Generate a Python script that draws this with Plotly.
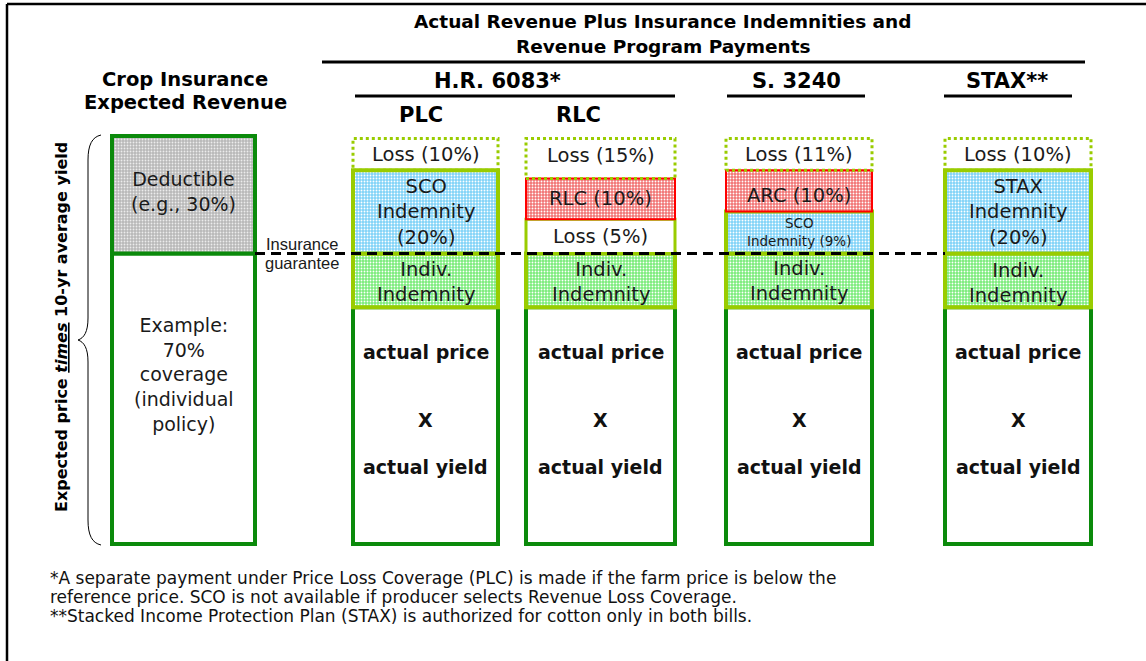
import plotly.graph_objects as go

# ---------------- data (percent of expected revenue) ----------------
col_names = ["Crop Insurance Expected Revenue", "PLC", "RLC", "S. 3240", "STAX"]

crop_values = [71.2, 28.8]
crop_kinds = ["coverage", "deductible"]
crop_labels = ["Example:<br>70%<br>coverage<br>(individual<br>policy)", "Deductible<br>(e.g., 30%)"]

plc_values = [58.0, 13.2, 20.4, 7.8]
plc_kinds = ["actual", "indiv", "blue", "loss"]
plc_labels = ["", "Indiv.<br>Indemnity", "SCO<br>Indemnity<br>(20%)", "Loss (10%)"]

rlc_values = [58.0, 13.2, 8.4, 10.0, 9.8]
rlc_kinds = ["actual", "indiv", "white", "red", "loss"]
rlc_labels = ["", "Indiv.<br>Indemnity", "Loss (5%)", "RLC (10%)", "Loss (15%)"]

arc_values = [58.0, 13.2, 10.3, 10.1, 7.8]
arc_kinds = ["actual", "indiv", "blue_small", "red", "loss"]
arc_labels = ["", "Indiv.<br>Indemnity", "SCO<br>Indemnity (9%)", "ARC (10%)", "Loss (11%)"]

stax_values = [58.0, 13.2, 20.4, 7.8]
stax_kinds = ["actual", "indiv", "blue", "loss"]
stax_labels = ["", "Indiv.<br>Indemnity", "STAX<br>Indemnity<br>(20%)", "Loss (10%)"]

actual_lines = ["actual price", "X", "actual yield"]

header_main = ["Actual Revenue Plus Insurance Indemnities and", "Revenue Program Payments"]
bill_names = ["H.R. 6083*", "S. 3240", "STAX**"]
program_names = ["PLC", "RLC"]
left_header = ["Crop Insurance", "Expected Revenue"]
axis_text = "<b>Expected price <i><u>times</u></i> 10-yr average yield</b>"
guarantee_text = ["Insurance", "guarantee"]
footnotes = [
    "*A separate payment under Price Loss Coverage (PLC) is made if the farm price is below the",
    "reference price. SCO is not available if producer selects Revenue Loss Coverage.",
    "**Stacked Income Protection Plan (STAX) is authorized for cotton only in both bills.",
]

columns = [
    (crop_values, crop_kinds, crop_labels),
    (plc_values, plc_kinds, plc_labels),
    (rlc_values, rlc_kinds, rlc_labels),
    (arc_values, arc_kinds, arc_labels),
    (stax_values, stax_kinds, stax_labels),
]

# ---------------- layout constants ----------------
W, H = 1146, 661
COL_X = [183.5, 425.5, 600.5, 799.0, 1018.0]
COL_W = [143, 145, 149, 146, 146]
PX_PER_PCT = 4.08
Y0_PX = 544
FONT = "DejaVu Sans"
TXT = "#1a1a1a"
DKGREEN = "#0b8a0b"
YGREEN = "#99cc00"


def ypx(p):
    return (Y0_PX - p) / PX_PER_PCT


def yp(p):
    return 1 - p / H


STYLE = {
    "coverage": dict(fill="#ffffff", fg=None, line=DKGREEN, lw=4, size=19),
    "deductible": dict(fill="#b8b8b8", fg="#ececec", line=DKGREEN, lw=4, size=19),
    "actual": dict(fill="#ffffff", fg=None, line=DKGREEN, lw=4, size=19),
    "indiv": dict(fill="#7aec7a", fg="#ffffff", line=YGREEN, lw=4, size=19.5),
    "blue": dict(fill="#80d3f8", fg="#ffffff", line=YGREEN, lw=4, size=19.5),
    "blue_small": dict(fill="#80d3f8", fg="#ffffff", line=YGREEN, lw=4, size=13.5),
    "white": dict(fill="#ffffff", fg=None, line=YGREEN, lw=3, size=19.5),
    "red": dict(fill="#f27474", fg="#ffffff", line="#ff0000", lw=2, size=19.5),
    "loss": dict(fill=None, fg=None, line=YGREEN, lw=3, size=19.5),
}
LABEL_SHIFT = {(0, 0): 24, (0, 1): 3, (3, 3): -5, (1, 1): -2, (2, 1): -2, (3, 1): -1,
               (4, 1): -3, (2, 4): 3}

fig = go.Figure()

# insurance guarantee dashed line (behind bars)
g_y = crop_values[0]
fig.add_trace(go.Scatter(
    x=[COL_X[0] + COL_W[0] / 2, COL_X[4] - COL_W[4] / 2], y=[g_y, g_y], mode="lines",
    line=dict(color="#000000", width=3, dash="10px,6px"), hoverinfo="skip", showlegend=False))

annotations = []
dotted = []
for ci, (vals, kinds, labels) in enumerate(columns):
    base = 0.0
    cx, w = COL_X[ci], COL_W[ci]
    for si, (v, k, lab) in enumerate(zip(vals, kinds, labels)):
        st = STYLE[k]
        if k == "loss":
            dotted.append((cx, w, base, base + v))
        else:
            marker = dict(color=st["fill"], line=dict(color=st["line"], width=st["lw"]))
            if st["fg"]:
                marker["pattern"] = dict(shape=".", bgcolor=st["fill"], fgcolor=st["fg"],
                                         size=3, solidity=0.3, fillmode="replace")
            fig.add_trace(go.Bar(x=[cx], y=[v], base=[base], width=[w], marker=marker,
                                 hoverinfo="skip", showlegend=False))
        if lab:
            annotations.append(dict(
                x=cx, y=base + v / 2, xref="x", yref="y", text=lab, showarrow=False,
                xanchor="center", yanchor="middle", yshift=LABEL_SHIFT.get((ci, si), 0),
                font=dict(family=FONT, size=st["size"], color=TXT), align="center"))
        if k == "actual":
            top = base + v
            top_px = Y0_PX - top * PX_PER_PCT
            for txt, py in zip(actual_lines, [352, 420, 467]):
                annotations.append(dict(
                    x=cx, y=top, xref="x", yref="y", text="<b>%s</b>" % txt, showarrow=False,
                    xanchor="center", yanchor="middle", yshift=-(py - top_px),
                    font=dict(family=FONT, size=19, color="#111111")))
        base += v

# dotted "loss" boxes
for cx, w, b, t in dotted:
    x0, x1 = cx - w / 2, cx + w / 2
    fig.add_trace(go.Scatter(
        x=[x0, x1, x1, x0, x0], y=[b, b, t, t, b], mode="lines",
        line=dict(color=YGREEN, width=3, dash="dot"), hoverinfo="skip", showlegend=False))


def label(txt, x, py, size, family=FONT, color="#000000", xanchor="center", angle=0):
    return dict(x=x, y=yp(py), xref="x", yref="paper", text=txt, showarrow=False,
                xanchor=xanchor, yanchor="middle", textangle=angle,
                font=dict(family=family, size=size, color=color))


# headers
for txt, py in zip(header_main, [22, 46]):
    annotations.append(label("<b>%s</b>" % txt, 663, py, 18.5))
for txt, x in zip(bill_names, [497, 796, 1007]):
    annotations.append(label("<b>%s</b>" % txt, x, 81, 21))
for txt, x in zip(program_names, [421, 578]):
    annotations.append(label("<b>%s</b>" % txt, x, 115, 21))
for txt, py in zip(left_header, [80, 103]):
    annotations.append(label("<b>%s</b>" % txt, 185, py, 19.5))

# rotated axis description
annotations.append(label(axis_text, 62, 327, 16, angle=-90))

# insurance guarantee label
for txt, py in zip(guarantee_text, [244, 263]):
    annotations.append(label(txt, 302, py, 16.5, family="Liberation Sans", color=TXT))

# footnotes
for txt, py in zip(footnotes, [578, 597, 616]):
    annotations.append(label(txt, 48, py, 17, color="#111111", xanchor="left"))

# lines: frame, header rules
shapes = [
    dict(type="line", xref="x", yref="paper", x0=7, x1=W, y0=yp(4), y1=yp(4),
         line=dict(color="#000000", width=2.5)),
    dict(type="line", xref="x", yref="paper", x0=7, x1=7, y0=yp(4), y1=0,
         line=dict(color="#000000", width=2.5)),
    dict(type="line", xref="x", yref="paper", x0=322, x1=1085, y0=yp(62), y1=yp(62),
         line=dict(color="#000000", width=3)),
]
for x0, x1 in [(355, 675), (727, 865), (944, 1072)]:
    shapes.append(dict(type="line", xref="x", yref="paper", x0=x0, x1=x1, y0=yp(96), y1=yp(96),
                       line=dict(color="#000000", width=3)))

# curly brace
pts = [("M", [(101, 135)]), ("C", [(92, 137), (88, 145), (88, 160)]), ("L", [(88, 318)]),
       ("C", [(88, 332), (84, 338), (78, 340)]), ("C", [(84, 342), (88, 348), (88, 362)]),
       ("L", [(88, 520)]), ("C", [(88, 535), (92, 543), (101, 545)])]
path = " ".join(cmd + " " + " ".join("%g,%g" % (x, ypx(y)) for x, y in p) for cmd, p in pts)
shapes.append(dict(type="path", xref="x", yref="y", path=path, line=dict(color="#000000", width=1)))

fig.update_layout(
    width=W, height=H, autosize=False, margin=dict(l=0, r=0, t=0, b=0, pad=0),
    paper_bgcolor="#ffffff", plot_bgcolor="#ffffff", barmode="overlay",
    xaxis=dict(range=[0, W], visible=False, fixedrange=True),
    yaxis=dict(range=[ypx(H), ypx(0)], visible=False, fixedrange=True),
    annotations=annotations, shapes=shapes, showlegend=False,
)
fig.write_html("out.html", config={"displayModeBar": False},
               post_script="document.body.style.margin='0';document.body.style.overflow='hidden';")
